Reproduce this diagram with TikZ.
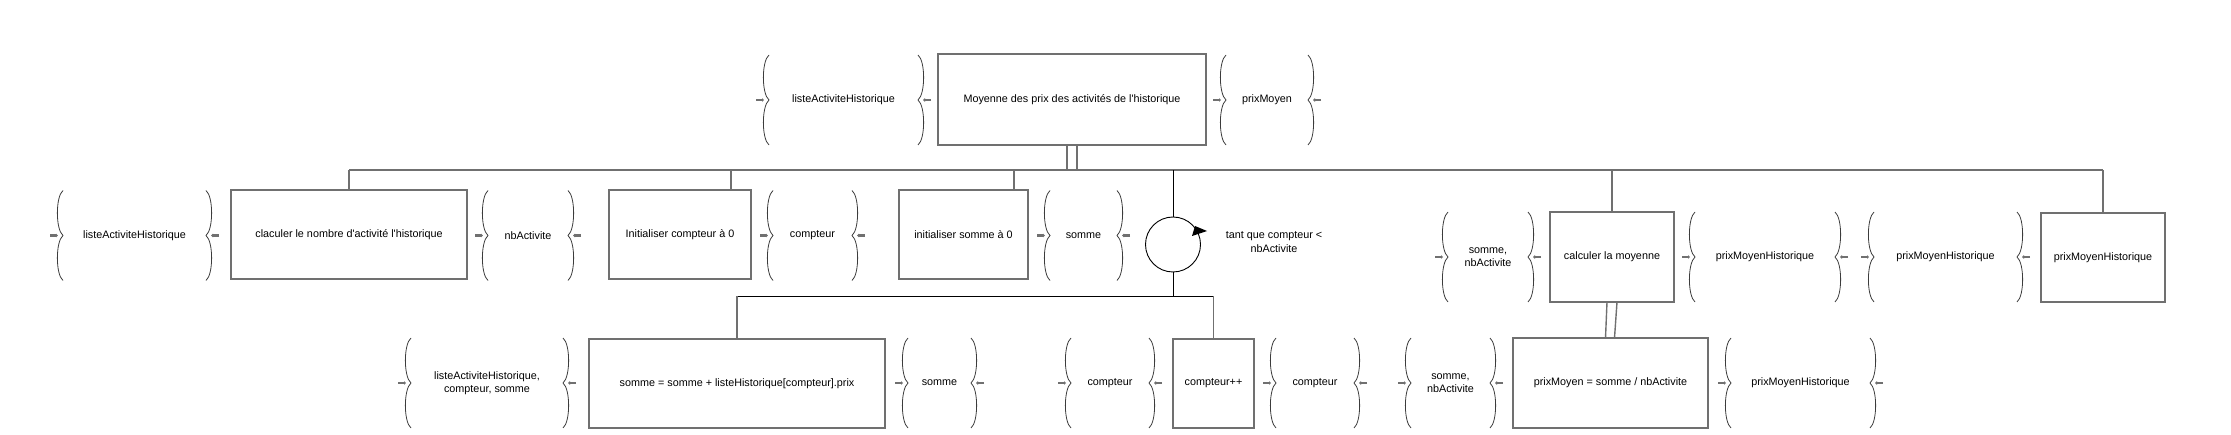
\documentclass[tikz,border=0pt]{standalone}
\usepackage{fontspec}
\setmainfont{Liberation Sans}
\usetikzlibrary{arrows.meta}
\definecolor{boxgray}{RGB}{112,112,112}
\definecolor{bracegray}{RGB}{60,60,60}

\begin{document}
\begin{tikzpicture}
  [x=1pt,y=-1pt,font=\fontsize{10.8}{13.3}\selectfont,
   every node/.style={align=center,inner sep=0pt,outer sep=0pt},
   wh/.style 2 args={minimum width=#1,minimum height=#2},
   action/.style={draw=boxgray,line width=1.5pt,rectangle},
   data/.style={rectangle,minimum height=90},
   link/.style={draw=boxgray,line width=1.8pt},
   thinlink/.style={draw=black,line width=0.9pt},
   flux/.style={draw=bracegray,line width=0.8pt},
   stub/.style={draw=boxgray,line width=2.4pt,-{Triangle[length=2pt,width=3.5pt]}}]
  \useasboundingbox (0,0) rectangle (2231,435);

  % top level
  \node[data,minimum width=161] (d1) at (843.5,100) {listeActiviteHistorique};
  \node[action,wh={268}{91}] (b0) at (1072,99.5) {Moyenne des prix des activités de l\textquotesingle historique};
  \node[data,minimum width=94] (d2) at (1267,100) {prixMoyen};

  % second level
  \node[data,minimum width=155] (d3) at (134.5,235.5) {listeActiviteHistorique};
  \node[action,wh={236}{89}] (b1) at (349,234.5) {claculer le nombre d\textquotesingle activité l\textquotesingle historique};
  \node[data,minimum width=92] (d4) at (528,235.5) {nbActivite};
  \node[action,wh={142}{89}] (b2) at (680,234.5) {Initialiser compteur à 0};
  \node[data,minimum width=91] (d5) at (812.5,235.5) {compteur};
  \node[action,wh={129}{89}] (b3) at (963.5,234.5) {initialiser somme à 0};
  \node[data,minimum width=79] (d6) at (1083.5,235.5) {somme};
  \node[circle,draw,line width=0.9pt,minimum size=55] (loop) at (1173,244.5) {};
  \node (cond) at (1274,242) {tant que compteur <\\nbActivite};
  \node[data,minimum width=92] (d7) at (1488,257) {somme,\\nbActivite};
  \node[action,wh={124}{90}] (b4) at (1612,257) {calculer la moyenne};
  \node[data,minimum width=152] (d8) at (1765,257) {prixMoyenHistorique};
  \node[data,minimum width=155] (d9) at (1945.5,257) {prixMoyenHistorique};
  \node[action,wh={124}{89}] (b5) at (2103,257.5) {prixMoyenHistorique};

  % third level
  \node[data,minimum width=164] (d10) at (487,383) {listeActiviteHistorique,\\compteur, somme};
  \node[action,wh={296}{89}] (b6) at (737,383.5) {somme = somme + listeHistorique[compteur].prix};
  \node[data,minimum width=75] (d11) at (939.5,383) {somme};
  \node[data,minimum width=90] (d12) at (1110,383) {compteur};
  \node[action,wh={81}{89}] (b7) at (1213.5,383.5) {compteur++};
  \node[data,minimum width=90] (d13) at (1315,383) {compteur};
  \node[data,minimum width=91] (d14) at (1450.5,383) {somme,\\nbActivite};
  \node[action,wh={195}{90}] (b8) at (1610.5,383) {prixMoyen = somme / nbActivite};
  \node[data,minimum width=151] (d15) at (1800.5,383) {prixMoyenHistorique};

  \coordinate (bus) at (0,170);
  \coordinate (sbus) at (0,296);
  \coordinate (b2top) at ([xshift=-20pt]b2.north east);
  \coordinate (b3top) at ([xshift=-14pt]b3.north east);

  % data braces
  \foreach \n in {d1,d2,d3,d4,d5,d6,d7,d8,d9,d10,d11,d12,d13,d14,d15} {
    \draw[flux] ([shift={(6,0)}]\n.north west) .. controls ([shift={(-1.5,6)}]\n.north west) and ([shift={(-1.5,-6)}]\n.west) .. ([shift={(6,0)}]\n.west)
      .. controls ([shift={(-1.5,6)}]\n.west) and ([shift={(-1.5,-6)}]\n.south west) .. ([shift={(6,0)}]\n.south west);
    \draw[flux] ([shift={(-6,0)}]\n.north east) .. controls ([shift={(1.5,6)}]\n.north east) and ([shift={(1.5,-6)}]\n.east) .. ([shift={(-6,0)}]\n.east)
      .. controls ([shift={(1.5,6)}]\n.east) and ([shift={(1.5,-6)}]\n.south east) .. ([shift={(-6,0)}]\n.south east);
    \draw[stub] ([shift={(-7,0)}]\n.west) -- ([shift={(1,0)}]\n.west);
    \draw[stub] ([shift={(7,0)}]\n.east) -- ([shift={(-1,0)}]\n.east);
  }

  % tree
  \draw[link,line width=1.4pt] ([xshift=-5pt]b0.south) rectangle ([xshift=5pt]b0.south |- bus);
  \draw[link] (b1.north |- bus) -- (b5.north |- bus);
  \foreach \b in {b1,b2top,b3top,b4,b5}
    \draw[link] (\b) -- (\b |- bus);
  \draw[thinlink] (loop.north) -- (loop.north |- bus);
  \draw[thinlink] (loop.south) -- (loop.south |- sbus);
  \draw[thinlink] (b6.north |- sbus) -- (b7.north |- sbus);
  \foreach \b in {b6,b7}
    \draw[link] (\b.north) -- (\b.north |- sbus);
  \draw[link,line width=1.4pt] ([xshift=-5pt]b4.south) -- ([xshift=-5pt]b8.north) -- ([xshift=4pt]b8.north) -- ([xshift=5pt]b4.south);
  \fill ([shift={(19,-8.5)}]loop.center) -- ([shift={(22,-18.5)}]loop.center) -- ([shift={(34,-13.5)}]loop.center) -- cycle;
\end{tikzpicture}
\end{document}
